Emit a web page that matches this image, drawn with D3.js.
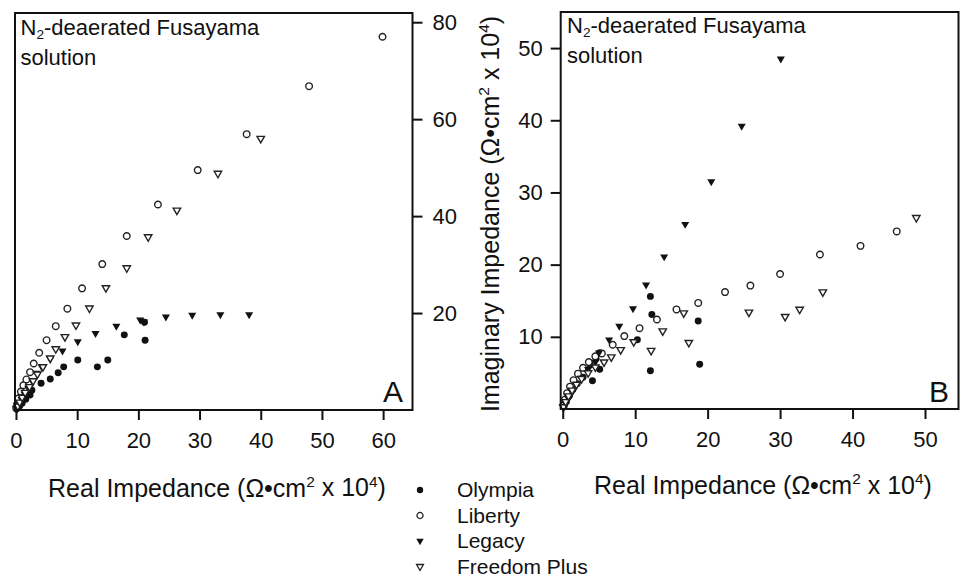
<!DOCTYPE html>
<html>
<head>
<meta charset="utf-8">
<script src="https://cdn.jsdelivr.net/npm/d3@7/dist/d3.min.js"></script>
<style>
  body { margin: 0; background: #fff; }
  svg text { font-family: Arial, "Liberation Sans", sans-serif; fill: #111; }
</style>
</head>
<body>
<div id="chart"></div>
<script>
// Series names (legend order)
const seriesNames = ["Olympia", "Liberty", "Legacy", "Freedom Plus"];

// Panel A: [real, imaginary] in Ohm*cm2 x 10^4
const olympiaA = [[0.2,0.3],[0.6,0.8],[1.0,1.4],[1.6,2.2],[2.3,3.1],[2.6,4.1],[4.1,5.5],[5.6,6.4],
  [6.9,7.7],[7.8,8.9],[10.1,10.3],[13.3,8.9],[15.0,10.3],[17.7,15.5],[21.0,18.1],[21.1,14.4]];
const libertyA = [[0.05,0.3],[0.2,1.2],[0.4,2.4],[0.8,3.8],[1.2,5.1],[1.7,6.3],[2.3,7.8],[2.9,9.6],
  [3.8,11.8],[5.0,14.4],[6.5,17.3],[8.4,20.9],[10.8,25.1],[14.1,30.1],[18.1,35.9],[23.2,42.4],
  [29.7,49.5],[37.7,56.9],[47.9,66.8],[59.9,77.0]];
const legacyA = [[0.2,0.5],[0.5,1.2],[0.9,2.2],[1.4,3.3],[2.0,4.5],[2.7,5.8],[3.4,7.6],[4.2,8.9],
  [5.6,10.5],[7.6,12.2],[10.1,14.1],[13.0,15.8],[16.4,17.3],[20.3,18.6],[20.9,18.2],[24.5,19.2],
  [28.8,19.6],[33.4,19.7],[38.1,19.7]];
const freedomA = [[0.1,0.3],[0.3,0.8],[0.6,1.6],[1.0,2.6],[1.5,3.6],[2.2,4.8],[2.8,6.0],[3.5,7.4],
  [4.4,8.9],[5.6,10.7],[6.5,12.6],[8.0,15.1],[9.8,17.5],[12.0,21.0],[14.7,25.2],[18.1,29.3],
  [21.6,35.7],[26.3,41.2],[33.0,48.8],[40.0,56.0]];

// Panel B
const olympiaB = [[0.2,0.4],[0.5,1.0],[0.9,1.8],[1.4,2.7],[2.0,3.5],[2.8,4.4],[4.1,3.9],[3.8,6.1],
  [5.1,5.5],[4.6,7.0],[5.1,7.8],[10.3,9.6],[12.1,5.3],[12.3,13.1],[12.1,15.6],[18.7,12.2],[18.9,6.2]];
const libertyB = [[0.1,0.5],[0.3,1.3],[0.6,2.2],[1.0,3.1],[1.5,4.0],[2.1,4.9],[2.8,5.7],[3.6,6.5],
  [4.5,7.3],[5.4,7.7],[6.9,8.9],[8.5,10.1],[10.6,11.2],[13.0,12.4],[15.7,13.8],[18.7,14.7],
  [22.4,16.2],[25.9,17.1],[30.0,18.7],[35.5,21.4],[41.1,22.6],[46.1,24.6]];
const legacyB = [[0.1,0.2],[0.4,0.7],[0.8,1.4],[1.3,2.3],[1.9,3.3],[2.6,4.3],[3.5,5.5],[4.5,6.5],
  [5.0,7.8],[6.4,9.6],[7.8,11.5],[9.7,13.9],[11.5,17.2],[14.0,21.1],[16.9,25.6],[20.5,31.5],
  [24.7,39.2],[30.1,48.5]];
const freedomB = [[0.1,0.3],[0.4,1.0],[0.8,1.8],[1.3,2.6],[1.9,3.4],[2.6,4.2],[3.5,5.0],[4.5,5.8],
  [5.7,6.5],[6.7,7.2],[8.0,8.2],[9.8,9.3],[12.2,8.1],[13.8,10.8],[16.7,13.3],[17.4,9.2],
  [25.7,13.4],[30.7,12.8],[32.7,13.8],[35.9,16.2],[48.8,26.5]];

const ticksAX = [0, 10, 20, 30, 40, 50, 60];
const ticksAY = [20, 40, 60, 80];
const ticksBX = [0, 10, 20, 30, 40, 50];
const ticksBY = [10, 20, 30, 40, 50];

const W = 964, H = 579;
const svg = d3.select("#chart").append("svg").attr("width", W).attr("height", H);

// marker styles: filled circle, open circle, filled down-triangle, open down-triangle
const markerStyles = [
  { type: d3.symbolCircle, size: 38, fill: "#111", stroke: "none" },
  { type: d3.symbolCircle, size: 34, fill: "#fff", stroke: "#222" },
  { type: d3.symbolTriangle, size: 28, fill: "#111", stroke: "none", flip: true },
  { type: d3.symbolTriangle, size: 24, fill: "#fff", stroke: "#222", flip: true }
];

function richText(sel, parts) {
  parts.forEach(p => {
    const t = sel.append("tspan").text(p[0]);
    if (p[1] == "sup") t.attr("font-size", "0.62em").attr("dy", "-0.62em");
    if (p[1] == "sub") t.attr("font-size", "0.62em").attr("dy", "0.3em");
    if (p[1] == "back") t.attr("dy", p[2]);
  });
}

function drawMarkers(g, data, style, x, y, scale) {
  const s = scale || 1;
  g.append("g").selectAll("path")
    .data(data)
    .join("path")
      .attr("d", d3.symbol().type(style.type).size(style.size * s))
      .attr("transform", d => "translate(" + x(d[0]) + "," + y(d[1]) + ")" + (style.flip ? " rotate(180)" : ""))
      .attr("fill", style.fill)
      .attr("stroke", style.stroke)
      .attr("stroke-width", 1.4);
}

function annotation(g, xPos, yPos) {
  const t = g.append("text").attr("x", xPos).attr("y", yPos).attr("font-size", 22);
  richText(t, [["N"], ["2", "sub"], ["-deaerated Fusayama", "back", "-0.186em"]]);
  g.append("text").attr("x", xPos).attr("y", yPos + 30).attr("font-size", 22).text("solution");
}

function xTitle(g, cx, yPos) {
  const t = g.append("text").attr("x", cx).attr("y", yPos).attr("text-anchor", "middle").attr("font-size", 25);
  richText(t, [["Real Impedance (\u03A9\u2022cm"], ["2", "sup"], [" x 10", "back", "0.384em"], ["4", "sup"], [")", "back", "0.384em"]]);
}

function styleAxis(g) {
  g.select(".domain").remove();
  g.selectAll("line").attr("stroke", "#111").attr("stroke-width", 2);
  g.selectAll("text").attr("font-size", 22).attr("fill", "#111").attr("font-family", null);
}

// ---- Panel A ----
const xA = d3.scaleLinear().domain([-0.16, 64.8]).range([15, 412.5]);
const yA = d3.scaleLinear().domain([0, 81.9]).range([410, 13]);
const gA = svg.append("g");

[olympiaA, libertyA, legacyA, freedomA].forEach((d, i) => drawMarkers(gA, d, markerStyles[i], xA, yA));

gA.append("rect")
  .attr("x", xA.range()[0]).attr("y", yA.range()[1])
  .attr("width", xA.range()[1] - xA.range()[0])
  .attr("height", yA.range()[0] - yA.range()[1])
  .attr("fill", "none").attr("stroke", "#111").attr("stroke-width", 2);

gA.append("g")
    .attr("transform", "translate(0," + yA.range()[0] + ")")
  .call(d3.axisBottom(xA).tickValues(ticksAX).tickSize(10).tickPadding(12).tickSizeOuter(0))
  .call(styleAxis);

gA.append("g")
    .attr("transform", "translate(" + xA.range()[1] + ",0)")
  .call(d3.axisRight(yA).tickValues(ticksAY).tickSize(10).tickPadding(10).tickSizeOuter(0))
  .call(styleAxis);

annotation(gA, 20.5, 35);
gA.append("text").attr("x", 403).attr("y", 401.5).attr("text-anchor", "end").attr("font-size", 30).text("A");
xTitle(gA, 217, 496.5);

// ---- Panel B ----
const xB = d3.scaleLinear().domain([-0.28, 54.9]).range([560.7, 960.5]);
const yB = d3.scaleLinear().domain([0, 55.0]).range([409, 12]);
const gB = svg.append("g");

[olympiaB, libertyB, legacyB, freedomB].forEach((d, i) => drawMarkers(gB, d, markerStyles[i], xB, yB));

gB.append("rect")
  .attr("x", xB.range()[0]).attr("y", yB.range()[1])
  .attr("width", xB.range()[1] - xB.range()[0] - 2)
  .attr("height", yB.range()[0] - yB.range()[1])
  .attr("fill", "none").attr("stroke", "#111").attr("stroke-width", 2);

gB.append("g")
    .attr("transform", "translate(0," + yB.range()[0] + ")")
  .call(d3.axisBottom(xB).tickValues(ticksBX).tickSize(10).tickPadding(12).tickSizeOuter(0))
  .call(styleAxis);

gB.append("g")
    .attr("transform", "translate(" + xB.range()[0] + ",0)")
  .call(d3.axisLeft(yB).tickValues(ticksBY).tickSize(10).tickPadding(8).tickSizeOuter(0))
  .call(styleAxis);

annotation(gB, 567, 33);
gB.append("text").attr("x", 949).attr("y", 401.5).attr("text-anchor", "end").attr("font-size", 30).text("B");
xTitle(gB, 763, 494);

// Y title (shared, between panels)
const yt = svg.append("text")
  .attr("transform", "translate(499,214) rotate(-90)")
  .attr("text-anchor", "middle").attr("font-size", 25);
richText(yt, [["Imaginary Impedance (\u03A9\u2022cm"], ["2", "sup"], [" x 10", "back", "0.384em"], ["4", "sup"], [")", "back", "0.384em"]]);

// ---- Legend ----
const legendY = [490, 515.5, 541, 566.5];
const legend = svg.append("g");
seriesNames.forEach((name, i) => {
  const st = markerStyles[i];
  legend.append("path")
    .attr("d", d3.symbol().type(st.type).size(st.size * 0.85))
    .attr("transform", "translate(420," + legendY[i] + ")" + (st.flip ? " rotate(180)" : ""))
    .attr("fill", st.fill).attr("stroke", st.stroke).attr("stroke-width", 1.3);
  legend.append("text")
    .attr("x", 457).attr("y", legendY[i] + 7)
    .attr("font-size", 21).text(name);
});
</script>
</body>
</html>
